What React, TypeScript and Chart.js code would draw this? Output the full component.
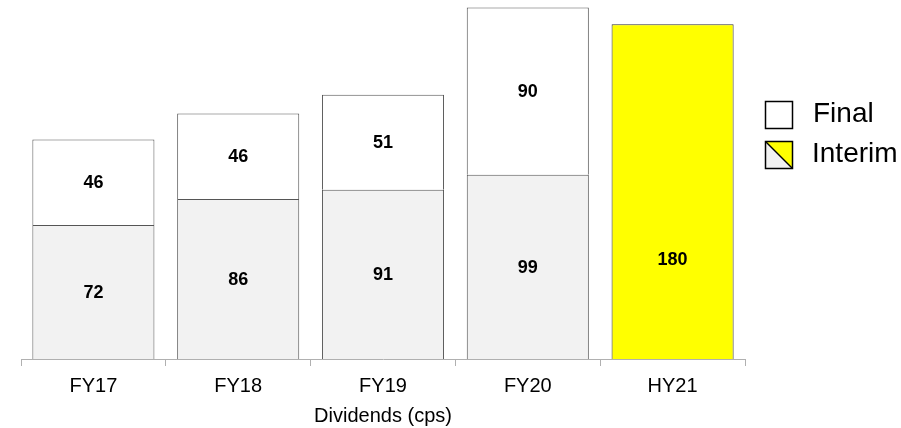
import React, { useEffect, useRef } from "react";
import { Chart, registerables } from "chart.js";

Chart.register(...registerables);

const categories = ["FY17", "FY18", "FY19", "FY20", "HY21"];
const interimValues = [72, 86, 91, 99, 180];
const finalValues: (number | null)[] = [46, 46, 51, 90, null];
const legendLabels = ["Final", "Interim"];
const axisTitle = "Dividends (cps)";

const FONT = "'Liberation Sans', Arial, sans-serif";
const GREY = "#f2f2f2";
const YELLOW = "#ffff00";

const labelsPlugin = {
  id: "segLabels",
  afterDatasetsDraw(chart: any) {
    const ctx = chart.ctx;
    ctx.save();
    ctx.font = `bold 18px ${FONT}`;
    ctx.fillStyle = "#000";
    ctx.textAlign = "center";
    ctx.textBaseline = "middle";
    chart.data.datasets.forEach((ds: any, di: number) => {
      const meta = chart.getDatasetMeta(di);
      meta.data.forEach((el: any, i: number) => {
        const v = ds.data[i];
        if (v == null) return;
        const props = el.getProps(["x", "y", "base"], true);
        let ly = (props.y + props.base) / 2 + 1;
        // single-segment (interim only) bar: label sits in the lower part
        if (di === 0 && finalValues[i] == null) {
          ly = props.base - (props.base - props.y) * 0.296;
        }
        ctx.fillText(String(v), props.x, ly);
      });
    });
    ctx.restore();
  },
};

const legendPlugin = {
  id: "customLegend",
  afterDraw(chart: any) {
    const ctx = chart.ctx;
    ctx.save();
    const bx = 765.5;
    const size = 27;
    const rows = [101.5, 141.5];
    // Final box
    ctx.fillStyle = "#fff";
    ctx.fillRect(bx, rows[0], size, size);
    ctx.lineWidth = 1.5;
    ctx.strokeStyle = "#000";
    ctx.strokeRect(bx, rows[0], size, size);
    // Interim box (diagonal split)
    const y1 = rows[1];
    ctx.beginPath();
    ctx.moveTo(bx, y1);
    ctx.lineTo(bx, y1 + size);
    ctx.lineTo(bx + size, y1 + size);
    ctx.closePath();
    ctx.fillStyle = GREY;
    ctx.fill();
    ctx.beginPath();
    ctx.moveTo(bx, y1);
    ctx.lineTo(bx + size, y1);
    ctx.lineTo(bx + size, y1 + size);
    ctx.closePath();
    ctx.fillStyle = YELLOW;
    ctx.fill();
    ctx.beginPath();
    ctx.moveTo(bx, y1);
    ctx.lineTo(bx + size, y1 + size);
    ctx.stroke();
    ctx.strokeRect(bx, y1, size, size);
    // Texts
    ctx.fillStyle = "#000";
    ctx.font = `28px ${FONT}`;
    ctx.textAlign = "left";
    ctx.textBaseline = "middle";
    ctx.fillText(legendLabels[0], 813, rows[0] + size / 2 - 1);
    ctx.fillText(legendLabels[1], 812, rows[1] + size / 2 - 1);
    ctx.restore();
  },
};

export default function App() {
  const ref = useRef<HTMLCanvasElement | null>(null);
  useEffect(() => {
    if (!ref.current) return;
    const chart = new Chart(ref.current, {
      type: "bar",
      data: {
        labels: categories,
        datasets: [
          {
            label: legendLabels[1],
            data: interimValues,
            backgroundColor: [GREY, GREY, GREY, GREY, YELLOW],
            borderColor: ["#555", "#555", "#555", "#555", "#333"],
            borderWidth: 1,
            categoryPercentage: 1,
            barPercentage: 0.843,
          },
          {
            label: legendLabels[0],
            data: finalValues,
            backgroundColor: "#ffffff",
            borderColor: "#555",
            borderWidth: 1,
            categoryPercentage: 1,
            barPercentage: 0.843,
          },
        ],
      },
      options: {
        animation: false,
        responsive: true,
        maintainAspectRatio: false,
        layout: { padding: { left: 21, right: 156, top: 0, bottom: 0 } },
        plugins: {
          legend: { display: false },
          tooltip: { enabled: false },
        },
        scales: {
          x: {
            stacked: true,
            grid: {
              display: true,
              drawOnChartArea: false,
              drawTicks: true,
              tickLength: 7,
              color: "#b0b0b0",
            },
            border: { display: true, color: "#b0b0b0" },
            ticks: {
              color: "#000",
              padding: 8,
              font: { family: FONT, size: 20 },
            },
            title: {
              display: true,
              text: axisTitle,
              color: "#000",
              font: { family: FONT, size: 20 },
              padding: { top: 6, bottom: 0 },
            },
            afterFit(scale: any) {
              scale.height = 69;
            },
          },
          y: {
            stacked: true,
            display: false,
            min: 0,
            max: 193,
          },
        },
      },
      plugins: [labelsPlugin, legendPlugin],
    });
    return () => chart.destroy();
  }, []);
  return (
    <div style={{ position: "absolute", left: 0, top: 0, width: 901, height: 428 }}>
      <canvas ref={ref} />
    </div>
  );
}
